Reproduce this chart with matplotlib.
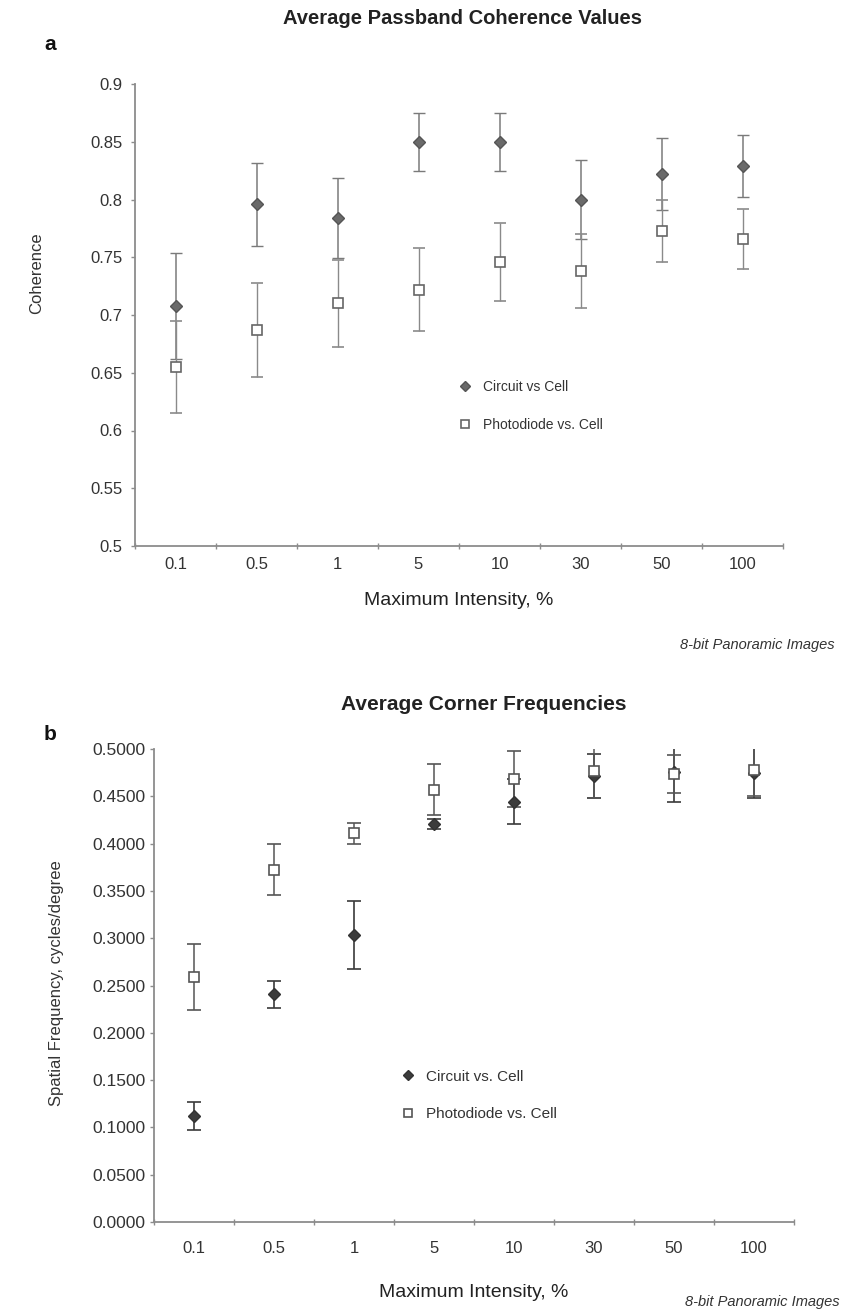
import numpy as np
import matplotlib
matplotlib.use("Agg")
import matplotlib.pyplot as plt
from matplotlib import font_manager as fm

names = {f.name for f in fm.fontManager.ttflist}
NARROW = 'Liberation Sans Narrow' if 'Liberation Sans Narrow' in names else 'Liberation Sans'
plt.rcParams['font.family'] = [NARROW, 'DejaVu Sans']

# ---------------- data ----------------
categories = ['0.1', '0.5', '1', '5', '10', '30', '50', '100']

coh_circuit = [0.708, 0.796, 0.784, 0.850, 0.850, 0.800, 0.822, 0.829]
coh_circuit_err = [0.046, 0.036, 0.035, 0.025, 0.025, 0.034, 0.031, 0.027]
coh_photo = [0.655, 0.687, 0.710, 0.722, 0.746, 0.738, 0.773, 0.766]
coh_photo_err = [0.040, 0.041, 0.038, 0.036, 0.034, 0.032, 0.027, 0.026]

cf_circuit = [0.1119, 0.2405, 0.3037, 0.4209, 0.4445, 0.4717, 0.4753, 0.4746]
cf_circuit_err = [0.0150, 0.0146, 0.0360, 0.0055, 0.0240, 0.0230, 0.0310, 0.0260]
cf_photo = [0.2591, 0.3725, 0.4110, 0.4569, 0.4682, 0.4767, 0.4739, 0.4781]
cf_photo_err = [0.0350, 0.0270, 0.0110, 0.0270, 0.0300, 0.0280, 0.0200, 0.0280]

coh_yticks = [0.5, 0.55, 0.6, 0.65, 0.7, 0.75, 0.8, 0.85, 0.9]
coh_yticklabels = ['0.5', '0.55', '0.6', '0.65', '0.7', '0.75', '0.8', '0.85', '0.9']
cf_yticks = [0.0, 0.05, 0.1, 0.15, 0.2, 0.25, 0.3, 0.35, 0.4, 0.45, 0.5]
cf_yticklabels = ['%.4f' % v for v in cf_yticks]

W, H = 852, 1311
fig = plt.figure(figsize=(W / 100, H / 100), dpi=100)


def style_axes(ax, ylim, yticks, yticklabels, axcol, tfs, xpad, ypad):
    x = np.arange(len(categories))
    ax.set_xlim(-0.5, len(categories) - 0.5)
    ax.set_ylim(*ylim)
    ax.set_xticks(x)
    ax.set_xticklabels(categories, fontsize=12, color='#333333')
    ax.set_xticks(np.arange(-0.5, len(categories)), minor=True)
    ax.tick_params(axis='x', which='major', length=0, pad=xpad)
    ax.tick_params(axis='x', which='minor', length=5, direction='inout', color=axcol, width=1)
    ax.set_yticks(yticks)
    ax.set_yticklabels(yticklabels, fontsize=tfs, color='#333333')
    ax.tick_params(axis='y', length=3, color=axcol, width=1, pad=ypad)
    for s in ['top', 'right']:
        ax.spines[s].set_visible(False)
    for s in ['left', 'bottom']:
        ax.spines[s].set_color(axcol)
        ax.spines[s].set_linewidth(1.3)


x = np.arange(len(categories))

# ---------------- panel a ----------------
ax1 = fig.add_axes([135 / W, 1 - 546 / H, 648 / W, 462 / H])
ax1.errorbar(x, coh_circuit, yerr=coh_circuit_err, fmt='D', ms=6.5, color='#6a6a6a',
             mfc='#6a6a6a', mec='#555555', ecolor='#7a7a7a', elinewidth=1.1,
             capsize=4.5, capthick=1.0, label='Circuit vs Cell', zorder=3)
ax1.errorbar(x, coh_photo, yerr=coh_photo_err, fmt='s', ms=6.5, color='#6a6a6a',
             mfc='white', mec='#666666', mew=1.2, ecolor='#8a8a8a', elinewidth=1.0,
             capsize=4.5, capthick=1.0, label='Photodiode vs. Cell', zorder=3)
style_axes(ax1, (0.5, 0.9), coh_yticks, coh_yticklabels, '#8c8c8c', 12, 8, 6)
ax1.set_ylabel('Coherence', fontsize=12, color='#333333')
ax1.yaxis.set_label_coords(-0.14, 0.59)
ax1.set_xlabel('Maximum Intensity, %', fontsize=14, color='#222222', labelpad=14)
h, l = ax1.get_legend_handles_labels()
leg1 = ax1.legend([hh[0] for hh in h], l, loc='upper left', bbox_to_anchor=(0.481, 0.386),
                  frameon=False, fontsize=10, handlelength=0.8, handletextpad=0.9,
                  labelspacing=1.7, markerscale=0.8)
for t in leg1.get_texts():
    t.set_color('#333333')

fig.text(462 / W, 1 - 18 / H, 'Average Passband Coherence Values', ha='center', va='center',
         fontsize=14.5, fontweight='bold', color='#222222')
fig.text(50 / W, 1 - 45 / H, 'a', ha='center', va='center', fontsize=15,
         fontweight='bold', color='#111111')
fig.text(835 / W, 1 - 645 / H, '8-bit Panoramic Images', ha='right', va='center',
         fontsize=10.5, style='italic', color='#333333')

# ---------------- panel b ----------------
ax2 = fig.add_axes([154 / W, 1 - 1222 / H, 640 / W, 473 / H])
ax2.errorbar(x, cf_circuit, yerr=cf_circuit_err, fmt='D', ms=6.5, color='#3c3c3c',
             mfc='#3c3c3c', mec='#333333', ecolor='#3a3a3a', elinewidth=1.2,
             capsize=5, capthick=1.2, label='Circuit vs. Cell', zorder=3)
ax2.errorbar(x, cf_photo, yerr=cf_photo_err, fmt='s', ms=6.5, color='#555555',
             mfc='white', mec='#555555', mew=1.2, ecolor='#555555', elinewidth=1.1,
             capsize=5, capthick=1.2, label='Photodiode vs. Cell', zorder=3)
style_axes(ax2, (0.0, 0.5), cf_yticks, cf_yticklabels, '#8c8c8c', 12.5, 14, 3)
ax2.set_ylabel('Spatial Frequency, cycles/degree', fontsize=12, color='#333333')
ax2.yaxis.set_label_coords(-0.14, 0.505)
ax2.set_xlabel('Maximum Intensity, %', fontsize=14, color='#222222', labelpad=20)
h, l = ax2.get_legend_handles_labels()
leg2 = ax2.legend([hh[0] for hh in h], l, loc='upper left', bbox_to_anchor=(0.366, 0.351),
                  frameon=False, fontsize=11, handlelength=0.8, handletextpad=0.8,
                  labelspacing=1.52, markerscale=0.8)
for t in leg2.get_texts():
    t.set_color('#333333')

fig.text(484 / W, 1 - 704 / H, 'Average Corner Frequencies', ha='center', va='center',
         fontsize=15, fontweight='bold', color='#222222')
fig.text(50 / W, 1 - 735 / H, 'b', ha='center', va='center', fontsize=15,
         fontweight='bold', color='#111111')
fig.text(840 / W, 1 - 1302 / H, '8-bit Panoramic Images', ha='right', va='center',
         fontsize=10.5, style='italic', color='#333333')

fig.savefig('out.png', dpi=100, facecolor='white')
